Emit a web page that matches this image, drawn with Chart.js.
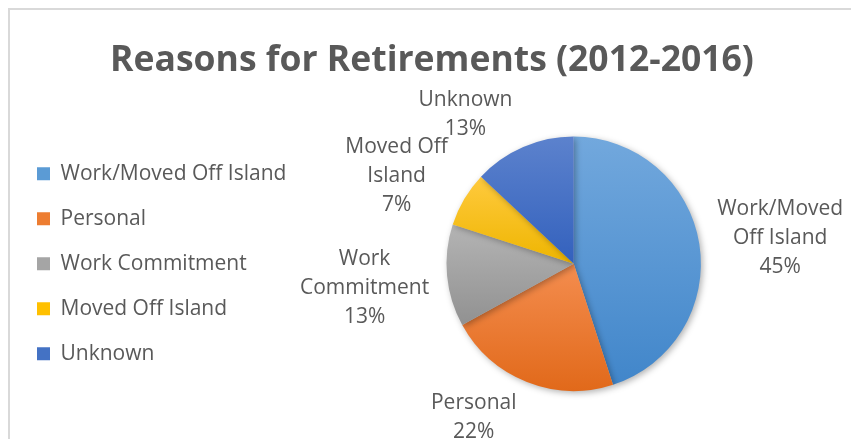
<!DOCTYPE html>
<html>
<head>
<meta charset="utf-8">
<script src="https://cdn.jsdelivr.net/npm/chart.js@4.4.1/dist/chart.umd.min.js"></script>
<style>
  html, body { margin: 0; padding: 0; background: #ffffff; }
  canvas { display: block; }
</style>
</head>
<body>
<canvas id="chart" width="851" height="439"></canvas>
<script>
// ---- data ----
const chartTitle = 'Reasons for Retirements (2012-2016)';
const categories = ['Work/Moved Off Island', 'Personal', 'Work Commitment', 'Moved Off Island', 'Unknown'];
const percentages = [45, 22, 13, 7, 13];

// ---- styles ----
const topColors    = ['#72A8DD', '#F48D4F', '#B4B4B4', '#FFCA3E', '#5C82CD'];
const bottomColors = ['#4186CA', '#E1691A', '#919191', '#EEB500', '#3361BD'];
const legendColors = ['#5B9BD5', '#ED7D31', '#A5A5A5', '#FFC000', '#4472C4'];
const textColor = '#595959';
const fontFamily = '"Open Sans", "Noto Sans", sans-serif';

const total = percentages.reduce((a, b) => a + b, 0);

function sectorYBounds(chart, i) {
  const a = chart.chartArea;
  const cy = (a.top + a.bottom) / 2;
  const r = Math.min(a.right - a.left, a.bottom - a.top) / 2;
  let cum = 0;
  for (let j = 0; j < i; j++) cum += percentages[j];
  const s = -Math.PI / 2 + cum / total * 2 * Math.PI;
  const e = s + percentages[i] / total * 2 * Math.PI;
  const ys = [cy, cy + r * Math.sin(s), cy + r * Math.sin(e)];
  [-Math.PI / 2, Math.PI / 2, 3 * Math.PI / 2].forEach(k => {
    if (k >= s && k <= e) ys.push(cy + r * Math.sin(k));
  });
  return [Math.min(...ys), Math.max(...ys)];
}

function sliceFill(context) {
  const chart = context.chart;
  const i = context.dataIndex;
  if (!chart.chartArea) return legendColors[i];
  const [y0, y1] = sectorYBounds(chart, i);
  const g = chart.ctx.createLinearGradient(0, y0, 0, y1);
  g.addColorStop(0, topColors[i]);
  g.addColorStop(1, bottomColors[i]);
  return g;
}

function wrapText(ctx, text, maxW) {
  const words = text.split(' ');
  const lines = [];
  let cur = '';
  words.forEach(w => {
    const test = cur ? cur + ' ' + w : w;
    if (cur && ctx.measureText(test).width > maxW) {
      lines.push(cur);
      cur = w;
    } else {
      cur = test;
    }
  });
  if (cur) lines.push(cur);
  return lines;
}

const frameBg = {
  id: 'frameBg',
  beforeDraw(chart) {
    const ctx = chart.ctx;
    ctx.save();
    ctx.fillStyle = '#ffffff';
    ctx.fillRect(0, 0, chart.width, chart.height);
    ctx.strokeStyle = '#D9D9D9';
    ctx.lineWidth = 2;
    ctx.strokeRect(9, 9, chart.width + 20, chart.height + 20);
    ctx.restore();
  }
};

const pieShadow = {
  id: 'pieShadow',
  beforeDatasetDraw(chart) {
    const ctx = chart.ctx;
    ctx.save();
    ctx.shadowColor = 'rgba(0,0,0,0.30)';
    ctx.shadowBlur = 6;
    ctx.shadowOffsetX = 2;
    ctx.shadowOffsetY = 2;
  },
  afterDatasetDraw(chart) {
    chart.ctx.restore();
  }
};

const pieLabels = {
  id: 'pieLabels',
  afterDatasetsDraw(chart) {
    const ctx = chart.ctx;
    const meta = chart.getDatasetMeta(0);
    ctx.save();
    ctx.font = '21px ' + fontFamily;
    ctx.fillStyle = textColor;
    ctx.textAlign = 'center';
    ctx.textBaseline = 'middle';
    const lineH = 29;
    const boxes = [];
    meta.data.forEach((arc, i) => {
      const p = arc.getProps(['x', 'y', 'startAngle', 'endAngle', 'outerRadius'], true);
      const mid = (p.startAngle + p.endAngle) / 2;
      const dx = Math.cos(mid), dy = Math.sin(mid);
      const lines = wrapText(ctx, categories[i], 150);
      lines.push(Math.round(percentages[i] / total * 100) + '%');
      const w = Math.max(...lines.map(l => ctx.measureText(l).width));
      const h = lines.length * lineH;
      const ax = p.x + dx * (p.outerRadius + 12);
      const ay = p.y + dy * (p.outerRadius + 12);
      const cx = ax + Math.sign(dx) * Math.min(1, Math.abs(dx) * 3) * (w / 2 + 6);
      const cy = ay + dy * h / 2 * 0.85 + 1.5;
      boxes.push({ cx, cy, w, h, lines });
    });
    // collision resolution: push the lower of two clearly overlapping boxes down
    const margin = 25, minOverlapX = 45;
    for (let pass = 0; pass < 3; pass++) {
      for (let a = 0; a < boxes.length; a++) {
        for (let b = 0; b < boxes.length; b++) {
          if (a === b) continue;
          const A = boxes[a], B = boxes[b];
          if (B.cy < A.cy) continue;
          const overlapX = (A.w + B.w) / 2 - Math.abs(A.cx - B.cx);
          const needed = A.cy + A.h / 2 + margin - (B.cy - B.h / 2);
          if (overlapX > minOverlapX && needed > 0) {
            B.cy += needed;
          }
        }
      }
    }
    boxes.forEach(bx => {
      bx.lines.forEach((l, k) => {
        ctx.fillText(l, bx.cx, bx.cy - bx.h / 2 + lineH * (k + 0.5));
      });
    });
    ctx.restore();
  }
};

new Chart(document.getElementById('chart'), {
  type: 'pie',
  data: {
    labels: categories,
    datasets: [{
      data: percentages,
      backgroundColor: sliceFill,
      borderWidth: 0
    }]
  },
  options: {
    responsive: false,
    animation: false,
    devicePixelRatio: 1,
    layout: { padding: { left: 13, right: 0, top: 0, bottom: 48 } },
    plugins: {
      title: {
        display: true,
        text: chartTitle,
        color: textColor,
        font: { family: fontFamily, size: 35.5, weight: 'bold', lineHeight: 1.2 },
        padding: { top: 40, bottom: 54 }
      },
      legend: {
        position: 'left',
        align: 'center',
        fullSize: false,
        labels: {
          boxWidth: 13,
          boxHeight: 13,
          padding: 24,
          color: textColor,
          font: { family: fontFamily, size: 21 },
          generateLabels: () => categories.map((c, i) => ({
            text: c,
            fillStyle: legendColors[i],
            strokeStyle: legendColors[i],
            lineWidth: 0,
            hidden: false,
            index: i,
            fontColor: textColor
          }))
        }
      },
      tooltip: { enabled: false }
    }
  },
  plugins: [frameBg, pieShadow, pieLabels]
});
</script>
</body>
</html>
